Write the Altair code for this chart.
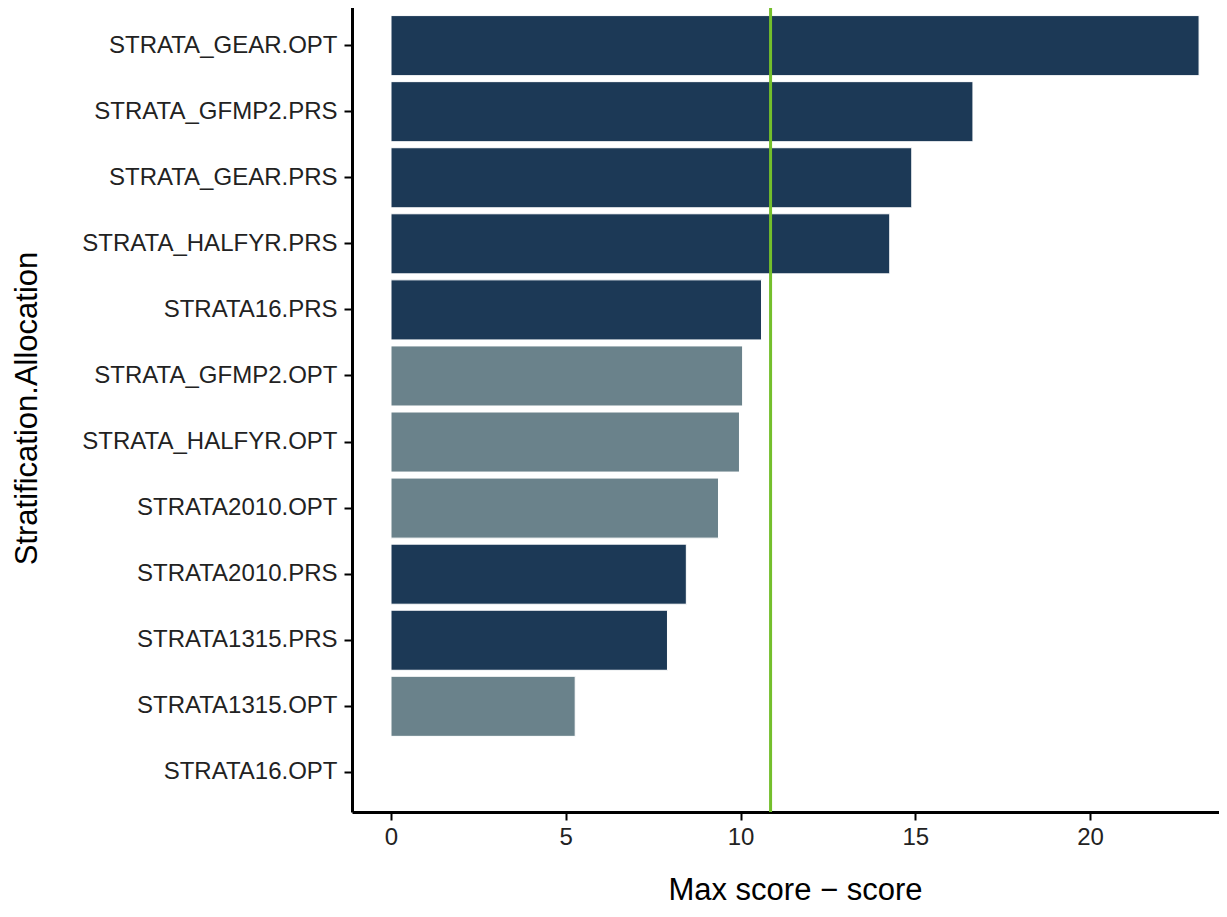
import altair as alt
import pandas as pd

categories = [
    "STRATA_GEAR.OPT", "STRATA_GFMP2.PRS", "STRATA_GEAR.PRS", "STRATA_HALFYR.PRS",
    "STRATA16.PRS", "STRATA_GFMP2.OPT", "STRATA_HALFYR.OPT", "STRATA2010.OPT",
    "STRATA2010.PRS", "STRATA1315.PRS", "STRATA1315.OPT", "STRATA16.OPT",
]
values = [23.12, 16.65, 14.90, 14.27, 10.60, 10.06, 9.97, 9.37, 8.45, 7.91, 5.27, 0.0]
groups = ["A", "A", "A", "A", "A", "B", "B", "B", "A", "A", "B", "B"]
threshold = [10.86]

df = pd.DataFrame({"cat": categories, "val": values, "grp": groups})
thr = pd.DataFrame({"x": threshold})

xscale = alt.Scale(domain=[-1.116, 23.69], nice=False, zero=False)

bars = alt.Chart(df).mark_bar(stroke="white", strokeWidth=1).encode(
    x=alt.X("val:Q", scale=xscale,
            axis=alt.Axis(title="Max score \u2212 score", values=[0, 5, 10, 15, 20],
                          grid=False, domainColor="black", domainWidth=3,
                          tickColor="black", tickWidth=2, tickSize=8,
                          labelFontSize=24, labelColor="#222222", labelPadding=5,
                          labelFont="Liberation Sans",
                          titleFont="Liberation Sans", titleFontSize=31,
                          titleFontWeight="normal", titleColor="black",
                          titleX=443, titleY=78, titleBaseline="middle")),
    y=alt.Y("cat:N", sort=categories,
            scale=alt.Scale(paddingInner=0.0909, paddingOuter=0.145),
            axis=alt.Axis(title="Stratification.Allocation", grid=False,
                          domainColor="black", domainWidth=3,
                          tickColor="black", tickWidth=2, tickSize=8,
                          labelFontSize=24, labelColor="#222222", labelPadding=7,
                          labelFont="Liberation Sans", labelLimit=400,
                          titleFont="Liberation Sans", titleFontSize=31,
                          titleFontWeight="normal", titleColor="black",
                          titleAngle=270, titleX=-325, titleY=402,
                          titleAlign="center", titleBaseline="middle")),
    color=alt.Color("grp:N", scale=alt.Scale(domain=["A", "B"], range=["#1c3956", "#6a828b"]),
                    legend=None),
)

rule = alt.Chart(thr).mark_rule(color="#74bf2c", strokeWidth=3).encode(
    x=alt.X("x:Q", scale=xscale)
)

chart = (bars + rule).properties(
    width=867, height=806,
    autosize=alt.AutoSizeParams(type="none"),
    padding={"left": 344, "top": -2, "right": 0, "bottom": 95},
).configure_view(stroke=None)

chart.save("out.html", embed_options={"renderer": "svg", "actions": False})
